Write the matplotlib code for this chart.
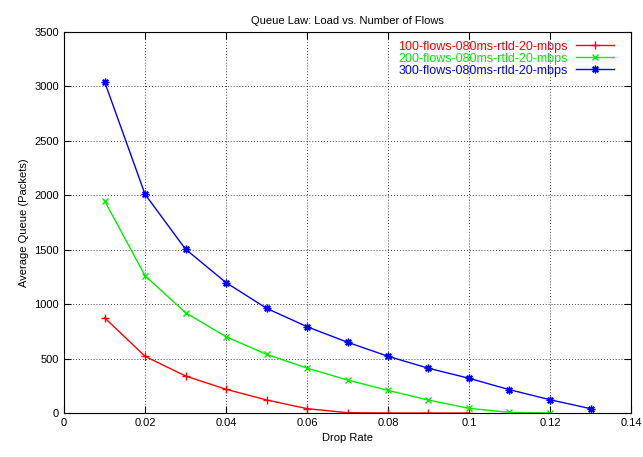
import matplotlib
matplotlib.use("Agg")
import matplotlib.pyplot as plt
from matplotlib.ticker import FuncFormatter

plt.rcParams['font.family'] = ['Liberation Sans', 'DejaVu Sans']

# data
x_100 = [0.01, 0.02, 0.03, 0.04, 0.05, 0.06, 0.07, 0.08, 0.09, 0.10]
q_100 = [876, 521, 340, 218, 120, 40, 3, 0, 0, 0]

x_200 = [0.01, 0.02, 0.03, 0.04, 0.05, 0.06, 0.07, 0.08, 0.09, 0.10, 0.11, 0.12]
q_200 = [1951, 1262, 922, 701, 539, 413, 303, 208, 119, 43, 6, 0]

x_300 = [0.01, 0.02, 0.03, 0.04, 0.05, 0.06, 0.07, 0.08, 0.09, 0.10, 0.11, 0.12, 0.13]
q_300 = [3045, 2010, 1505, 1198, 962, 793, 650, 521, 411, 319, 214, 122, 40]

labels = ['100-flows-080ms-rtld-20-mbps',
          '200-flows-080ms-rtld-20-mbps',
          '300-flows-080ms-rtld-20-mbps']

fig = plt.figure(figsize=(6.43, 4.57), dpi=100)
ax = fig.add_axes([64 / 643, 1 - 413 / 457, (631 - 64) / 643, (413 - 32) / 457])

ax.plot(x_100, q_100, color='#ff0000', marker='+', markersize=6, lw=1, label=labels[0])
ax.plot(x_200, q_200, color='#00ee00', marker='x', markersize=5, lw=1, label=labels[1])
ax.plot(x_300, q_300, color='#0000ff', marker=(8, 2, 0), markersize=5.5, lw=1, label=labels[2])

ax.set_xlim(0, 0.14)
ax.set_ylim(0, 3500)
ax.set_xticks([0, 0.02, 0.04, 0.06, 0.08, 0.10, 0.12, 0.14])
ax.set_yticks(range(0, 3501, 500))
ax.xaxis.set_major_formatter(FuncFormatter(lambda v, p: '%g' % round(v, 2)))
ax.tick_params(direction='in', top=True, right=True, labelsize=8, length=5, width=0.8)
ax.grid(True, color='black', linestyle=(0, (1, 2.5)), linewidth=0.6)

ax.set_xlabel('Drop Rate', fontsize=8)
ax.set_ylabel('Average Queue (Packets)', fontsize=8)
ax.set_title('Queue Law: Load vs. Number of Flows', fontsize=8)

leg = ax.legend(loc='upper right', bbox_to_anchor=(0.985, 1.0), fontsize=9,
                frameon=False, markerfirst=False, labelcolor='linecolor',
                handlelength=3.0, borderaxespad=0.3, labelspacing=0.0,
                handletextpad=0.7)
for t in leg.get_texts():
    t.set_ha('right')

fig.savefig('out.png', dpi=100)
